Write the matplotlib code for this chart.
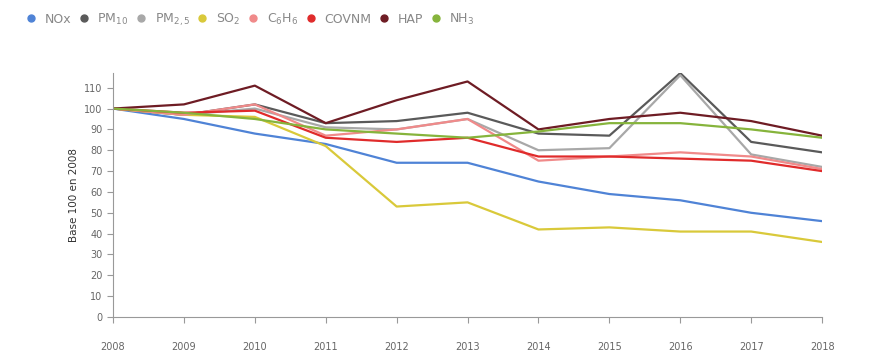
import matplotlib.pyplot as plt
from matplotlib.lines import Line2D

years = [2008, 2009, 2010, 2011, 2012, 2013, 2014, 2015, 2016, 2017, 2018]

nox = [100, 95, 88, 83, 74, 74, 65, 59, 56, 50, 46]
pm10 = [100, 97, 102, 93, 94, 98, 88, 87, 117, 84, 79]
pm25 = [100, 97, 100, 91, 90, 95, 80, 81, 116, 78, 72]
so2 = [100, 97, 96, 82, 53, 55, 42, 43, 41, 41, 36]
c6h6 = [100, 97, 102, 87, 90, 95, 75, 77, 79, 77, 71]
covnm = [100, 98, 99, 86, 84, 86, 77, 77, 76, 75, 70]
hap = [100, 102, 111, 93, 104, 113, 90, 95, 98, 94, 87]
nh3 = [100, 98, 95, 90, 88, 86, 89, 93, 93, 90, 86]

labels = ['NOx', 'PM$_{10}$', 'PM$_{2,5}$', 'SO$_{2}$', 'C$_{6}$H$_{6}$', 'COVNM', 'HAP', 'NH$_{3}$']
colors = ['#4f83d6', '#5a5a5a', '#a8a8a8', '#d9c93a', '#f08a8a', '#e02b2b', '#6e1c24', '#86b43c']
series = [nox, pm10, pm25, so2, c6h6, covnm, hap, nh3]

fig = plt.figure(figsize=(8.83, 3.55), dpi=100)
ax = fig.add_axes([0.128, 0.107, 0.803, 0.687])

for values, color in zip(series, colors):
    ax.plot(years, values, color=color, linewidth=1.6)

ax.set_xlim(2008, 2018)
ax.set_ylim(0, 117)
ax.set_xticks(years)
ax.set_yticks(range(0, 111, 10))
ax.set_ylabel('Base 100 en 2008', fontsize=7.5, color='#333333')

for side in ['top', 'right']:
    ax.spines[side].set_visible(False)
for side in ['left', 'bottom']:
    ax.spines[side].set_color('#999999')
ax.tick_params(axis='both', colors='#999999', labelcolor='#666666', labelsize=7, length=4)
ax.tick_params(axis='x', pad=14)

handles = [Line2D([], [], marker='o', linestyle='', color=c, markersize=5) for c in colors]
fig.legend(handles, labels, loc='upper left', bbox_to_anchor=(0.015, 1.0), ncol=8,
           frameon=False, fontsize=9, handletextpad=0.6, columnspacing=0.5,
           labelcolor='#888888', handlelength=1.0)

plt.savefig('out.png', dpi=100)
